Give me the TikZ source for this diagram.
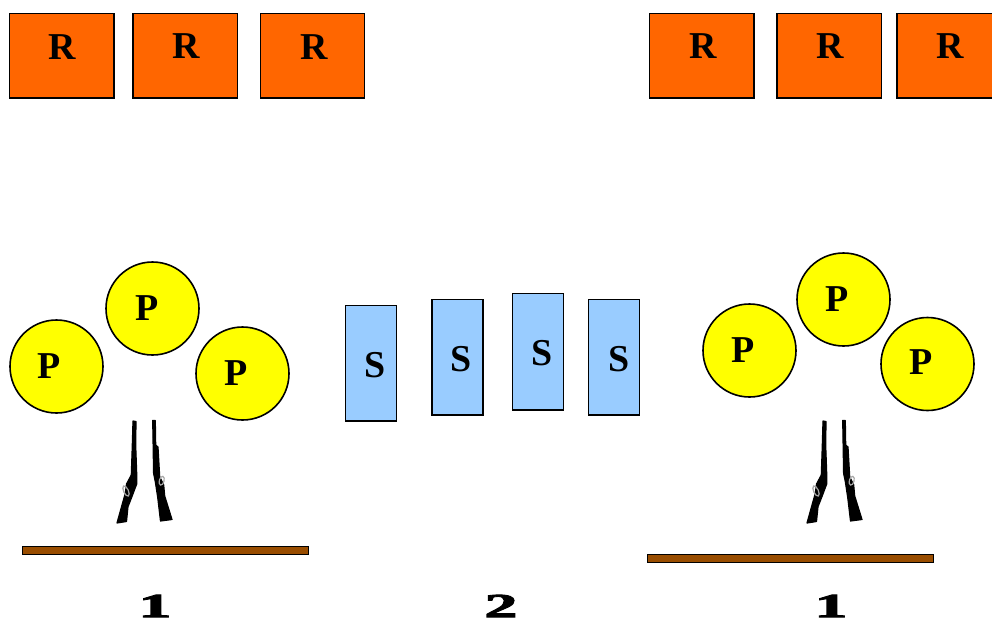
\documentclass[tikz,border=0pt]{standalone}
\usepackage{fontspec}
\setmainfont{Liberation Serif}
\newfontfamily\stationfont[FakeBold=2.5]{Liberation Serif Bold}
\definecolor{targetorange}{HTML}{FF6600}
\definecolor{shooteryellow}{HTML}{FFFF00}
\definecolor{screenblue}{HTML}{99CCFF}
\definecolor{tablebrown}{HTML}{994D00}
\tikzset{
	target/.style={draw=black, line width=0.4mm, fill=targetorange},
	shooter/.style={draw=black, line width=0.4mm, fill=shooteryellow},
	screen/.style={draw=black, line width=0.4mm, fill=screenblue},
	tabletop/.style={draw=black, line width=0.4mm, fill=tablebrown},
	letter/.style={inner sep=0pt, font=\fontsize{27}{27}\selectfont\bfseries},
	station/.style={inner sep=0pt, xscale=1.95, font=\fontsize{24}{24}\selectfont\stationfont},
	gunmetal/.style={fill=black, draw=black, line width=0.3mm, line join=round}
}
\def\rifles(#1,#2){
	\begin{scope}[shift={(#1,#2)}]
		\draw[gunmetal] (133,421) -- (136,421.5) -- (135.7,445) -- (136.7,473.3) -- (136.7,484) -- (131.7,497.3) -- (128,506.7) -- (126.5,521.5) -- (117,523) -- (122,505) -- (125.3,493.3) -- (126.5,484) -- (131.3,475) -- (132.3,445) -- cycle;
		\draw[gunmetal] (152.7,420.5) -- (155.3,420.5) -- (155.7,445) -- (158,447) -- (159.7,476.7) -- (163.7,485) -- (164.7,496) -- (172,519.5) -- (160.5,521) -- (157.7,497.3) -- (155.3,481.7) -- (153.6,473.3) -- cycle;
		\draw[gray!70, line width=0.3mm, rotate around={25:(126,491)}] (126,491) ellipse (2.4 and 5.5);
		\draw[gray!70, line width=0.3mm, rotate around={-15:(161.7,480.7)}] (161.7,480.7) ellipse (2.4 and 4.5);
	\end{scope}
}

\begin{document}
\begin{tikzpicture}[x=0.025cm, y=-0.025cm]
		%%%%% START %%%%%
		\useasboundingbox (0, 0) rectangle (992, 619);
		\clip (0, 0) rectangle (992, 619);
		
		\draw[target] (9.5, 13.5) rectangle (114, 98);
		\draw[target] (133, 13.5) rectangle (237.5, 98);
		\draw[target] (260.5, 13.5) rectangle (364.5, 98);
		\draw[target] (649.5, 13.5) rectangle (754, 98);
		\draw[target] (777, 13.5) rectangle (881.5, 98);
		\draw[target] (897, 13.5) rectangle (1002, 98);
		
		\node[letter] (targetA) at (62, 47) {R};
		\node[letter] (targetB) at (186, 46) {R};
		\node[letter] (targetC) at (314, 47) {R};
		\node[letter] (targetD) at (703, 46) {R};
		\node[letter] (targetE) at (830, 46) {R};
		\node[letter] (targetF) at (950.5, 46) {R};
		
		\draw[shooter] (56.5, 366.5) circle (46.5);
		\draw[shooter] (152.5, 308.5) circle (46.5);
		\draw[shooter] (242.5, 373.5) circle (46.5);
		\draw[shooter] (749.5, 350.5) circle (46.5);
		\draw[shooter] (843.5, 299.5) circle (46.5);
		\draw[shooter] (927.5, 364) circle (46.5);
		
		\node[letter] (shooterA) at (49.5, 366) {P};
		\node[letter] (shooterB) at (147, 308) {P};
		\node[letter] (shooterC) at (236.5, 373) {P};
		\node[letter] (shooterD) at (743, 350) {P};
		\node[letter] (shooterE) at (837, 299) {P};
		\node[letter] (shooterF) at (921, 362) {P};
		
		\draw[screen] (345.5, 305.5) rectangle (396.5, 421);
		\draw[screen] (432, 299.5) rectangle (483, 415);
		\draw[screen] (512.5, 293.5) rectangle (563.5, 410);
		\draw[screen] (588.5, 299.5) rectangle (639.5, 415);
		
		\node[letter] (screenA) at (375.5, 365) {S};
		\node[letter] (screenB) at (461.5, 359) {S};
		\node[letter] (screenC) at (542.5, 353) {S};
		\node[letter] (screenD) at (619.5, 359) {S};
		
		\rifles(0,0)
		\rifles(690,0)
		
		\draw[tabletop] (22.5, 546.5) rectangle (308.5, 554.5);
		\draw[tabletop] (647.5, 554.5) rectangle (933.5, 562.5);
		
		\node[station] (stationA) at (155, 606) {1};
		\node[station] (stationB) at (501, 606) {2};
		\node[station] (stationC) at (831, 606) {1};
		
		%%%%% END %%%%%
	\end{tikzpicture}
\end{document}
